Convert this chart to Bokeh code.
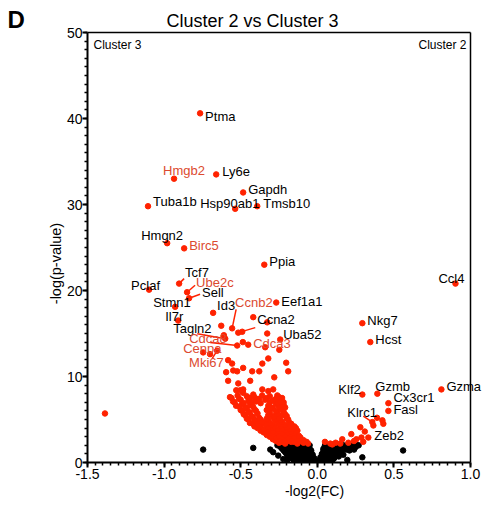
import math
from bokeh.plotting import figure
from bokeh.models import Range1d, SingleIntervalTicker, NumeralTickFormatter, Label, ColumnDataSource
from bokeh.core.properties import value
from bokeh.embed import file_html
from bokeh.resources import INLINE

# ---------------- data ----------------
title_text = "Cluster 2 vs Cluster 3"
panel_letter = "D"
x_label = "-log2(FC)"
y_label = "-log(p-value)"
left_group = "Cluster 3"
right_group = "Cluster 2"

# labelled genes: -log2(FC), -log(p)
genes = ["Ptma", "Hmgb2", "Ly6e", "Gapdh", "Hsp90ab1", "Tmsb10", "Tuba1b", "Hmgn2", "Birc5",
         "Ppia", "Tcf7", "Ube2c", "Sell", "Pclaf", "Stmn1", "Il7r", "Id3", "Ccnb2", "Eef1a1",
         "Ccna2", "Tagln2", "Uba52", "Cdca8", "Cdca3", "Cenpa", "Mki67",
         "Ccl4", "Nkg7", "Hcst", "Klf2", "Gzmb", "Gzma", "Cx3cr1", "Fasl", "Klrc1", "Zeb2"]
gene_fc = [-0.765, -0.935, -0.660, -0.484, -0.536, -0.392, -1.105, -0.980, -0.869,
           -0.346, -0.902, -0.850, -0.837, -1.098, -0.928, -0.908, -0.680, -0.556, -0.268,
           -0.516, -0.601, -0.242, -0.523, -0.451, -0.745, -0.654,
           0.902, 0.294, 0.346, 0.294, 0.392, 0.810, 0.464, 0.464, 0.359, 0.333]
gene_p = [40.6, 33.0, 33.5, 31.4, 29.5, 29.8, 29.8, 25.5, 24.9,
          23.0, 20.8, 19.8, 19.1, 20.1, 18.1, 16.5, 17.4, 15.6, 18.6,
          15.1, 14.4, 14.3, 13.6, 13.7, 12.8, 13.0,
          20.8, 16.2, 14.0, 7.9, 8.0, 8.5, 6.9, 6.0, 4.7, 2.9]
cell_cycle_genes = ["Hmgb2", "Birc5", "Ube2c", "Ccnb2", "Cdca8", "Cdca3", "Cenpa", "Mki67"]

# other significant genes (red)
sig_fc = [-1.386,
          -0.418, -0.627, -0.610, -0.490, -0.327, -0.327, -0.248, -0.486, -0.340,
          -0.595, -0.549, -0.523, -0.484, -0.425, -0.438, -0.379, -0.359, -0.320, -0.203,
          -0.190, -0.582, -0.503, -0.484, -0.418, -0.359, -0.320, -0.288, -0.261, -0.582,
          -0.556, -0.281, -0.516, -0.529, -0.484, -0.700,
          -0.25, -0.21, -0.17, -0.13, -0.09, -0.06,
          -0.27, -0.23, -0.19, -0.15, -0.11, -0.07,
          -0.29, -0.25, -0.21, -0.17, -0.13, -0.09,
          -0.31, -0.27, -0.23, -0.19, -0.15, -0.11,
          -0.33, -0.29, -0.25, -0.21, -0.17, -0.12,
          -0.35, -0.31, -0.27, -0.23, -0.19, -0.15,
          -0.37, -0.33, -0.29, -0.25, -0.21, -0.17, -0.13,
          -0.39, -0.35, -0.30, -0.26, -0.22, -0.18, -0.14,
          -0.41, -0.37, -0.32, -0.28, -0.24, -0.20, -0.15,
          -0.42, -0.38, -0.34, -0.30, -0.25, -0.21, -0.17,
          -0.44, -0.40, -0.36, -0.31, -0.27, -0.23, -0.18,
          -0.45, -0.41, -0.37, -0.32, -0.28, -0.24, -0.19,
          -0.46, -0.42, -0.38, -0.33, -0.29, -0.25, -0.20,
          -0.47, -0.43, -0.32, -0.28, -0.23, -0.20,
          -0.48, -0.44, -0.39, -0.31, -0.26, -0.21,
          -0.49, -0.45, -0.40, -0.31, -0.27, -0.22,
          -0.50, -0.46, -0.41, -0.33, -0.29, -0.24,
          -0.51, -0.47, -0.42, -0.30, -0.25, -0.21,
          -0.53, -0.49, -0.44, -0.32, -0.27, -0.22,
          -0.54, -0.48, -0.43, -0.37, -0.31, -0.26, -0.22,
          -0.55, -0.50, -0.45, -0.40, -0.34, -0.29, -0.24,
          -0.56, -0.51, -0.44, -0.38, -0.33, -0.27, -0.23,
          -0.57, -0.52, -0.46, -0.41, -0.36, -0.31, -0.25,
          0.085, 0.098, 0.150, 0.163, 0.203, 0.222, 0.255, 0.288, 0.300, 0.281,
          0.366, 0.425, 0.431, 0.050, 0.120, 0.310, 0.240, 0.390]
sig_p = [5.7,
         16.9, 15.9, 14.8, 15.2, 16.3, 15.0, 13.1, 14.0, 13.4,
         10.5, 10.7, 10.6, 11.0, 10.6, 9.5, 10.6, 11.5, 12.1, 11.6,
         10.6, 9.5, 8.4, 8.5, 7.9, 8.5, 8.3, 8.5, 7.8, 11.9,
         11.5, 9.9, 9.2, 8.4, 8.1, 12.6,
         2.3, 2.2, 2.4, 2.2, 2.3, 2.2,
         2.5, 2.4, 2.5, 2.4, 2.5, 2.4,
         2.7, 2.8, 2.6, 2.8, 2.7, 2.6,
         3.0, 2.9, 3.0, 2.9, 3.0, 2.9,
         3.2, 3.3, 3.1, 3.2, 3.3, 3.1,
         3.5, 3.4, 3.5, 3.4, 3.5, 3.4,
         3.7, 3.8, 3.6, 3.7, 3.8, 3.6, 3.7,
         4.0, 3.9, 4.0, 3.9, 4.0, 3.9, 4.0,
         4.2, 4.3, 4.1, 4.2, 4.3, 4.1, 4.2,
         4.5, 4.4, 4.5, 4.4, 4.5, 4.4, 4.5,
         4.6, 4.8, 4.7, 4.6, 4.8, 4.7, 4.6,
         5.0, 4.9, 5.0, 4.9, 5.0, 4.9, 5.0,
         5.1, 5.3, 5.2, 5.1, 5.3, 5.2, 5.1,
         5.5, 5.4, 5.5, 5.4, 5.5, 5.4,
         5.6, 5.8, 5.7, 5.6, 5.7, 5.6,
         6.0, 5.9, 6.0, 5.9, 6.0, 5.9,
         6.1, 6.3, 6.2, 6.1, 6.3, 6.2,
         6.5, 6.4, 6.5, 6.4, 6.5, 6.4,
         6.6, 6.8, 6.7, 6.6, 6.8, 6.7,
         7.0, 6.9, 7.0, 6.9, 7.0, 6.9, 7.0,
         7.1, 7.3, 7.2, 7.1, 7.3, 7.2, 7.1,
         7.5, 7.4, 7.5, 7.4, 7.5, 7.4, 7.5,
         7.6, 7.8, 7.7, 7.6, 7.8, 7.7, 7.6,
         2.2, 2.1, 2.2, 2.7, 2.3, 3.3, 2.7, 2.9, 2.4, 4.1,
         4.3, 4.9, 4.5, 2.4, 2.3, 3.6, 2.5, 5.2]

# non-significant genes (black)
ns_fc = [-0.15, -0.12, -0.09, -0.06, -0.03, -0.01,
         -0.16, -0.13, -0.10, -0.07, -0.04,
         -0.17, -0.14, -0.11, -0.08, -0.05, -0.02,
         -0.19, -0.16, -0.13, -0.10, -0.07, -0.04,
         -0.20, -0.17, -0.14, -0.11, -0.08, -0.05, -0.03,
         -0.21, -0.18, -0.15, -0.12, -0.09, -0.06, -0.04,
         -0.22, -0.19, -0.16, -0.13, -0.10, -0.07, -0.04,
         -0.23, -0.20, -0.17, -0.14, -0.11, -0.08, -0.05,
         -0.24, -0.21, -0.18, -0.15, -0.12, -0.09, -0.06,
         -0.26, -0.23, -0.20, -0.17, -0.14, -0.11, -0.08, -0.05,
         0.01, 0.04, 0.07,
         0.02, 0.05, 0.08, 0.10,
         0.02, 0.05, 0.08, 0.11,
         0.03, 0.06, 0.09, 0.12, 0.14,
         0.03, 0.06, 0.09, 0.12, 0.15, 0.17,
         0.04, 0.07, 0.10, 0.13, 0.16, 0.19, 0.21,
         0.04, 0.07, 0.10, 0.13, 0.16, 0.19, 0.22, 0.24,
         0.05, 0.08, 0.11, 0.14, 0.17, 0.20, 0.23, 0.25,
         0.05, 0.08, 0.11, 0.14, 0.17, 0.20, 0.23, 0.26, 0.27,
         -0.745, -0.418, -0.307, -0.288, -0.255, -0.222, -0.196, 0.196, 0.294, 0.560]
ns_p = [0.2, 0.3, 0.2, 0.3, 0.2, 0.1,
        0.4, 0.5, 0.4, 0.4, 0.5,
        0.6, 0.7, 0.6, 0.6, 0.7, 0.5,
        0.8, 0.9, 0.8, 0.8, 0.9, 0.8,
        1.0, 1.1, 1.0, 0.9, 1.0, 1.1, 0.9,
        1.2, 1.2, 1.3, 1.2, 1.2, 1.3, 1.2,
        1.4, 1.5, 1.4, 1.3, 1.4, 1.5, 1.4,
        1.6, 1.6, 1.7, 1.6, 1.6, 1.7, 1.6,
        1.8, 1.8, 1.9, 1.8, 1.7, 1.8, 1.9,
        2.0, 2.0, 2.1, 2.0, 2.0, 2.1, 2.0, 2.0,
        0.2, 0.3, 0.2,
        0.4, 0.5, 0.4, 0.3,
        0.6, 0.7, 0.6, 0.5,
        0.8, 0.9, 0.8, 0.8, 0.7,
        1.0, 1.1, 1.0, 0.9, 1.0, 0.9,
        1.4, 1.5, 1.4, 1.3, 1.4, 1.5, 1.4,
        1.6, 1.6, 1.7, 1.6, 1.6, 1.7, 1.6, 1.5,
        1.8, 1.8, 1.9, 1.8, 1.7, 1.8, 1.9, 1.8,
        2.0, 2.0, 2.1, 2.0, 2.0, 2.1, 2.0, 2.0, 2.0,
        1.5, 1.7, 1.5, 1.2, 0.8, 0.4, 0.3, 0.3, 0.6, 1.4]

# ---------------- layout / style ----------------
XMIN, XMAX, YMIN, YMAX = -1.5, 1.0, 0, 50     # axis extents
AX_W, AX_H = 383, 430                          # pixel length of the axes
PX_X = AX_W / (XMAX - XMIN)
PX_Y = AX_H / (YMAX - YMIN)
LEFT, TOP_EXTRA, BOTTOM, RIGHT_EXTRA = 87, 8, 45, 17
W, H = 487, 507
FRAME_W = AX_W + RIGHT_EXTRA
FRAME_H = AX_H + TOP_EXTRA
FONT = "Liberation Sans"
RED = "#ff2200"
RED_TEXT = "#dc4a30"
INK = "black"


def page_x(px):   # page pixel -> data x
    return XMIN + (px - LEFT) / PX_X


def page_y(py):   # page pixel -> data y
    return YMIN + (H - BOTTOM - py) / PX_Y


# label offsets in screen pixels (dx right, dy down) relative to the dot
LABEL_OFFSET = {
    "Ptma": (5, 3), "Hmgb2": (-11, -8), "Ly6e": (6, -3), "Gapdh": (5, -3), "Hsp90ab1": (-35, -5),
    "Tmsb10": (6, -3), "Tuba1b": (5, -5), "Hmgn2": (-26, -8), "Birc5": (5, -3), "Ppia": (5, -3),
    "Tcf7": (6, -11), "Ube2c": (9, -10), "Sell": (13, -6), "Pclaf": (-18, -4), "Stmn1": (-22, -4),
    "Il7r": (-13, -4), "Id3": (4, -7), "Ccnb2": (3, -26), "Eef1a1": (5, -1), "Ccna2": (19, -13),
    "Tagln2": (-52, -10), "Uba52": (3, -5), "Cdca8": (-48, -7), "Cdca3": (5, -1), "Cenpa": (-20, -4),
    "Mki67": (-28, 12), "Ccl4": (-17, -5), "Nkg7": (5, -3), "Hcst": (5, -3), "Klf2": (-24, -5),
    "Gzmb": (-2, -7), "Gzma": (5, -3), "Cx3cr1": (5, -6), "Fasl": (5, -1), "Klrc1": (-25, -10),
    "Zeb2": (6, -2),
}
LEADER = {"Tcf7": (5, -5), "Ube2c": (8, -7), "Sell": (11, -4), "Ccnb2": (4, -19), "Ccna2": (17, -5),
          "Tagln2": (-28, -5), "Cdca8": (-27, -3), "Mki67": (-5, 8), "Klrc1": (-9, -6)}

p = figure(width=W, height=H, output_backend="svg", toolbar_location=None,
           x_range=Range1d(XMIN, XMIN + FRAME_W / PX_X),
           y_range=Range1d(YMIN, YMIN + FRAME_H / PX_Y),
           min_border_left=LEFT, min_border_right=0,
           min_border_top=H - BOTTOM - FRAME_H, min_border_bottom=BOTTOM)
p.background_fill_color = "white"
p.border_fill_color = "white"
p.xgrid.visible = False
p.ygrid.visible = False
p.outline_line_color = None

p.xaxis.ticker = SingleIntervalTicker(interval=0.5, num_minor_ticks=10)
p.yaxis.ticker = SingleIntervalTicker(interval=10, num_minor_ticks=10)
p.xaxis.formatter = NumeralTickFormatter(format="0.0")
p.xaxis.bounds = (XMIN, XMAX)
p.yaxis.bounds = (YMIN, YMAX)
for ax in (p.xaxis, p.yaxis):
    ax.axis_line_width = 2
    ax.axis_line_color = INK
    ax.major_tick_line_color = INK
    ax.minor_tick_line_color = INK
    ax.major_tick_line_width = 2
    ax.minor_tick_line_width = 1.5
    ax.major_tick_out = 5
    ax.major_tick_in = 0
    ax.minor_tick_out = 3
    ax.minor_tick_in = 0
    ax.major_label_text_font = FONT
    ax.major_label_text_font_size = "14px"
    ax.major_label_text_color = INK
p.xaxis.major_label_standoff = 1
p.yaxis.major_label_standoff = 0

# box: top and right edges
p.segment([XMIN, XMAX], [YMAX, YMIN], [XMAX, XMAX], [YMAX, YMAX], line_color=INK, line_width=1.5)

# points
p.scatter(ns_fc, ns_p, size=5.5, color="black")
p.scatter(sig_fc, sig_p, size=5.5, color=RED)

# leader lines
lx0, ly0, lx1, ly1 = [], [], [], []
for g, gx, gy in zip(genes, gene_fc, gene_p):
    if g in LEADER:
        dx, dy = LEADER[g]
        lx0.append(gx + dx / PX_X)
        ly0.append(gy - dy / PX_Y)
        lx1.append(gx)
        ly1.append(gy)
p.segment(lx0, ly0, lx1, ly1, line_color=RED, line_width=1.5)

p.scatter(gene_fc, gene_p, size=5.5, color=RED)

src = ColumnDataSource(dict(
    x=gene_fc, y=gene_p, text=genes,
    dx=[LABEL_OFFSET[g][0] for g in genes],
    dy=[LABEL_OFFSET[g][1] for g in genes],
    color=[RED_TEXT if g in cell_cycle_genes else INK for g in genes],
))
p.text(x="x", y="y", text="text", x_offset="dx", y_offset="dy", text_color="color",
       source=src, text_font=value(FONT), text_font_size="13px",
       text_baseline="middle", text_align="left")

# in-frame corner labels
p.add_layout(Label(x=page_x(93), y=page_y(44), text=left_group, text_color=INK,
                   text_font=FONT, text_font_size="12px", text_baseline="middle", text_align="left"))
p.add_layout(Label(x=page_x(466), y=page_y(44), text=right_group, text_color=INK,
                   text_font=FONT, text_font_size="12px", text_baseline="middle", text_align="right"))

# texts outside the frame, in the side panels
p.add_layout(Label(x=page_x(252), y=page_y(20), text=title_text, text_color=INK,
                   text_font=FONT, text_font_size="18px", text_baseline="middle", text_align="center"),
             "above")
p.add_layout(Label(x=page_x(314), y=page_y(490), text=x_label, text_color=INK,
                   text_font=FONT, text_font_size="14px", text_baseline="middle", text_align="center"),
             "below")
p.add_layout(Label(x=page_x(55), y=page_y(263), text=y_label, angle=math.pi / 2, text_color=INK,
                   text_font=FONT, text_font_size="14.5px", text_baseline="middle", text_align="center"),
             "left")
p.add_layout(Label(x=page_x(7), y=page_y(19), text=panel_letter, text_color=INK,
                   text_font=FONT, text_font_size="24px", text_font_style="bold",
                   text_baseline="middle", text_align="left"),
             "left")

open("out.html", "w").write(file_html(p, INLINE))
